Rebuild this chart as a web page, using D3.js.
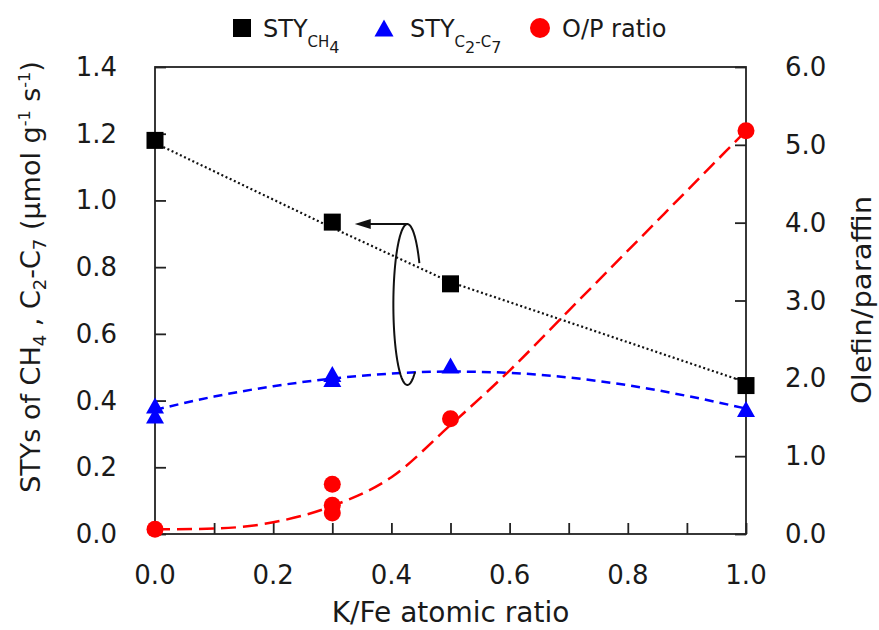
<!DOCTYPE html>
<html>
<head>
<meta charset="utf-8">
<script src="https://cdn.jsdelivr.net/npm/d3@7"></script>
<style>
  html, body { margin: 0; padding: 0; background: #fff; }
  svg { display: block; }
  text { font-family: "DejaVu Sans", Verdana, sans-serif; fill: #1a1a1a; }
</style>
</head>
<body>
<svg id="chart" width="879" height="630"></svg>
<script>
// K/Fe atomic ratio of each catalyst
const ratioCH4 = [0.0, 0.3, 0.5, 1.0];
const styCH4 = [1.18, 0.935, 0.75, 0.445];

const ratioC2C7 = [0.0, 0.0, 0.3, 0.3, 0.5, 1.0];
const styC2C7 = [0.385, 0.355, 0.48, 0.465, 0.505, 0.375];

const ratioOP = [0.0, 0.3, 0.3, 0.3, 0.5, 1.0];
const olefinParaffin = [0.06, 0.64, 0.37, 0.27, 1.48, 5.18];

// trend lines
const trendCH4X = [0.0, 0.3, 0.5, 1.0];
const trendCH4Y = [1.172, 0.918, 0.755, 0.455];

const trendC2C7X = [0.0, 0.1, 0.2, 0.3, 0.4, 0.5, 0.6, 0.7, 0.8, 0.9, 1.0];
const trendC2C7Y = [0.372, 0.412, 0.443, 0.466, 0.481, 0.487, 0.483, 0.469, 0.446, 0.414, 0.376];

const trendOPX = [0.0, 0.1, 0.2, 0.3, 0.4, 0.5, 0.6, 0.7, 0.8, 0.9, 1.0];
const trendOPY = [0.06, 0.07, 0.15, 0.36, 0.73, 1.40, 2.10, 2.87, 3.64, 4.41, 5.18];

// axis ticks
const xTickValues = [0.0, 0.1, 0.2, 0.3, 0.4, 0.5, 0.6, 0.7, 0.8, 0.9, 1.0];
const xTickLabels = ["0.0", "0.2", "0.4", "0.6", "0.8", "1.0"];
const yLeftTicks = [0.0, 0.2, 0.4, 0.6, 0.8, 1.0, 1.2, 1.4];
const yRightTicks = [0, 1, 2, 3, 4, 5, 6];

const svg = d3.select("#chart");
const plot = { left: 155, right: 746, top: 67, bottom: 534 };

const x = d3.scaleLinear().domain([0, 1]).range([plot.left, plot.right]);
const yL = d3.scaleLinear().domain([0, 1.4]).range([plot.bottom, plot.top]);
const yR = d3.scaleLinear().domain([0, 6]).range([plot.bottom, plot.top]);

const axisColor = "#222";

// text helper: places a label with optional rotation and along-text stretch
function label(txt, px, py, opts = {}) {
  const g = svg.append("g")
    .attr("transform", `translate(${px},${py}) rotate(${opts.rotate || 0}) scale(${opts.stretch || 1},1)`);
  const t = g.append("text")
    .attr("text-anchor", opts.anchor || "middle")
    .attr("dominant-baseline", opts.baseline || "auto")
    .style("font-size", (opts.size || 24) + "px");
  if (Array.isArray(txt)) {
    txt.forEach(p => {
      t.append("tspan").text(p.t)
        .attr("dy", p.dy || 0)
        .style("font-size", (p.size || opts.size || 24) + "px");
    });
  } else {
    t.text(txt);
  }
  return t;
}

// frame
svg.append("rect")
  .attr("x", plot.left).attr("y", plot.top)
  .attr("width", plot.right - plot.left).attr("height", plot.bottom - plot.top)
  .attr("fill", "none").attr("stroke", axisColor).attr("stroke-width", 1.8);

// inward ticks via d3 axes
const tickLen = 11;
const xAxis = svg.append("g").attr("transform", `translate(0,${plot.bottom})`)
  .call(d3.axisTop(x).tickValues(xTickValues).tickSize(tickLen).tickFormat(""));
const yAxisL = svg.append("g").attr("transform", `translate(${plot.left},0)`)
  .call(d3.axisRight(yL).tickValues(yLeftTicks).tickSize(tickLen).tickFormat(""));
const yAxisR = svg.append("g").attr("transform", `translate(${plot.right},0)`)
  .call(d3.axisLeft(yR).tickValues(yRightTicks).tickSize(tickLen).tickFormat(""));
[xAxis, yAxisL, yAxisR].forEach(a => {
  a.select(".domain").remove();
  a.selectAll(".tick line").attr("stroke", axisColor).attr("stroke-width", 1.8);
});

// tick labels
xTickLabels.forEach(s => label(s, x(+s), 575, { size: 26, baseline: "central" }));
yLeftTicks.forEach(v => label(v.toFixed(1), 117, yL(v), { size: 26, anchor: "end", baseline: "central" }));
yRightTicks.forEach(v => label(v.toFixed(1), 785, yR(v), { size: 26, anchor: "start", baseline: "central" }));

// axis titles
label("K/Fe atomic ratio", x(0.5), 622, { size: 28 });
label([
  { t: "STYs of CH" },
  { t: "4", size: 18, dy: 6 },
  { t: " , C", dy: -6 },
  { t: "2", size: 18, dy: 6 },
  { t: "-C", dy: -6 },
  { t: "7", size: 18, dy: 6 },
  { t: " (μmol g", dy: -6 },
  { t: "-1", size: 16, dy: -10 },
  { t: " s", dy: 10 },
  { t: "-1", size: 16, dy: -10 },
  { t: ")", dy: 10 }
], 40, 277, { size: 27, rotate: -90 });
label("Olefin/paraffin", 871, 300, { size: 26, rotate: -90, stretch: 1.12 });

// trend lines
function trend(xs, ys, yScale, curve) {
  return d3.line().x((d, i) => x(xs[i])).y((d, i) => yScale(ys[i])).curve(curve)(ys);
}
svg.append("path").attr("d", trend(trendCH4X, trendCH4Y, yL, d3.curveLinear))
  .attr("fill", "none").attr("stroke", "#111").attr("stroke-width", 2.2)
  .attr("stroke-dasharray", "2,2.6");
svg.append("path").attr("d", trend(trendC2C7X, trendC2C7Y, yL, d3.curveMonotoneX))
  .attr("fill", "none").attr("stroke", "#0000ff").attr("stroke-width", 2.5)
  .attr("stroke-dasharray", "9,6");
svg.append("path").attr("d", trend(trendOPX, trendOPY, yR, d3.curveMonotoneX))
  .attr("fill", "none").attr("stroke", "#ff0000").attr("stroke-width", 2.5)
  .attr("stroke-dasharray", "15,7");

// annotation: ellipse grouping the left-axis series, with arrow pointing left
const ann = { cx: 0.427, yTop: 0.929, yBot: 0.447, rx: 14, tip: 0.338 };
const ecx = x(ann.cx), eTop = yL(ann.yTop), eBot = yL(ann.yBot);
const ecy = (eTop + eBot) / 2, ery = (eBot - eTop) / 2;
const arcPts = d3.range(57, 331, 2).map(a => {
  const r = a * Math.PI / 180;
  return [ecx + ann.rx * Math.cos(r), ecy + ery * Math.sin(r)];
});
svg.append("path").attr("d", d3.line()(arcPts))
  .attr("fill", "none").attr("stroke", "#111").attr("stroke-width", 2);
const tipX = x(ann.tip);
svg.append("line").attr("x1", ecx).attr("y1", eTop).attr("x2", tipX + 12).attr("y2", eTop)
  .attr("stroke", "#111").attr("stroke-width", 2);
svg.append("path")
  .attr("d", `M${tipX},${eTop} L${tipX + 16},${eTop - 5} L${tipX + 16},${eTop + 5} Z`)
  .attr("fill", "#111");

// markers
const sq = 17;
svg.selectAll(".sq").data(styCH4).enter().append("rect")
  .attr("x", (d, i) => x(ratioCH4[i]) - sq / 2)
  .attr("y", d => yL(d) - sq / 2)
  .attr("width", sq).attr("height", sq).attr("fill", "#000");

const tri = (cx, cy, w, h) => `M${cx},${cy - h / 2} L${cx + w / 2},${cy + h / 2} L${cx - w / 2},${cy + h / 2} Z`;
svg.selectAll(".tri").data(styC2C7).enter().append("path")
  .attr("d", (d, i) => tri(x(ratioC2C7[i]), yL(d), 18, 16))
  .attr("fill", "#0000ff");

svg.selectAll(".dot").data(olefinParaffin).enter().append("circle")
  .attr("cx", (d, i) => x(ratioOP[i])).attr("cy", d => yR(d))
  .attr("r", 8.5).attr("fill", "#ff0000");

// legend
svg.append("rect").attr("x", 233).attr("y", 19).attr("width", 18).attr("height", 18).attr("fill", "#000");
label([{ t: "STY" }, { t: "CH", size: 15, dy: 10 }, { t: "4", size: 16, dy: 6 }], 263, 37, { size: 24, anchor: "start" });
svg.append("path").attr("d", tri(384, 28, 19, 17)).attr("fill", "#0000ff");
label([{ t: "STY" }, { t: "C", size: 15, dy: 10 }, { t: "2", size: 16, dy: 6 }, { t: "-C", size: 15, dy: -6 }, { t: "7", size: 16, dy: 6 }], 410, 37, { size: 24, anchor: "start" });
svg.append("circle").attr("cx", 540).attr("cy", 28).attr("r", 10).attr("fill", "#ff0000");
label("O/P ratio", 562, 37, { size: 24, anchor: "start" });
</script>
</body>
</html>
